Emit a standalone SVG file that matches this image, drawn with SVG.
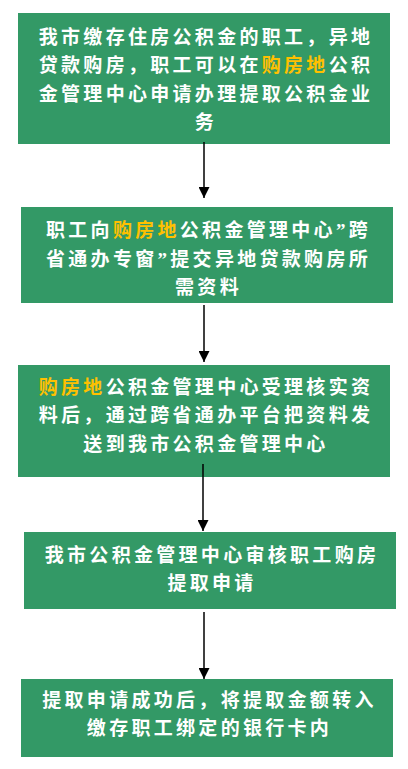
<svg xmlns="http://www.w3.org/2000/svg" width="408" height="769" viewBox="0 0 408 769">
<style>
.box{fill:#339966;}
.t{font-family:"Liberation Serif","Noto Sans CJK SC",serif;font-size:19px;font-weight:bold;fill:#ffffff;text-anchor:middle;letter-spacing:3.3px;}
.y{fill:#ffc000;}
.c{stroke:#000;stroke-width:1.5;fill:none;marker-end:url(#ah);}
</style>
<defs>
<marker id="ah" markerUnits="userSpaceOnUse" markerWidth="11" markerHeight="11" refX="11" refY="5.5" orient="auto">
<path d="M0,0 L11,5.5 L0,11 z" fill="#000"/>
</marker>
</defs>
<rect width="408" height="769" fill="#fff"/>
<g id="n1">
<rect class="box" x="18" y="13" width="372" height="131"/>
<text class="t" x="206" y="43.5">我市缴存住房公积金的职工，异地</text>
<text class="t" x="206" y="72">贷款购房，职工可以在<tspan class="y">购房地</tspan>公积</text>
<text class="t" x="206" y="100.5">金管理中心申请办理提取公积金业</text>
<text class="t" x="206" y="129">务</text>
</g>
<g id="n2">
<rect class="box" x="21" y="207" width="372" height="96"/>
<text class="t" x="208.5" y="237">职工向<tspan class="y">购房地</tspan>公积金管理中心”跨</text>
<text class="t" x="208.5" y="265.5">省通办专窗”提交异地贷款购房所</text>
<text class="t" x="208.5" y="294">需资料</text>
</g>
<g id="n3">
<rect class="box" x="18" y="365" width="372" height="112"/>
<text class="t" x="206" y="393.5"><tspan class="y">购房地</tspan>公积金管理中心受理核实资</text>
<text class="t" x="206" y="422">料后，通过跨省通办平台把资料发</text>
<text class="t" x="206" y="450.5">送到我市公积金管理中心</text>
</g>
<g id="n4">
<rect class="box" x="24" y="532" width="372" height="77"/>
<text class="t" x="212" y="562">我市公积金管理中心审核职工购房</text>
<text class="t" x="212" y="590">提取申请</text>
</g>
<g id="n5">
<rect class="box" x="21" y="679" width="372" height="78"/>
<text class="t" x="209.5" y="707">提取申请成功后，将提取金额转入</text>
<text class="t" x="209.5" y="735">缴存职工绑定的银行卡内</text>
</g>
<g id="connectors">
<line class="c" x1="204" y1="142" x2="204" y2="198"/>
<line class="c" x1="204" y1="305" x2="204" y2="362"/>
<line class="c" x1="203" y1="464" x2="203" y2="531"/>
<line class="c" x1="204" y1="612" x2="204" y2="679"/>
</g>
</svg>
